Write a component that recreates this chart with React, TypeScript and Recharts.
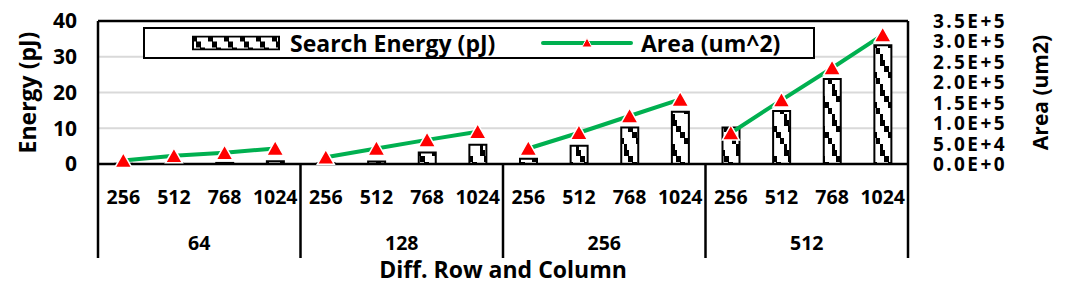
import React from "react"
import {
  Bar,
  CartesianGrid,
  ComposedChart,
  Legend,
  Line,
  ReferenceLine,
  XAxis,
  YAxis,
} from "recharts"

const columns = ["256", "512", "768", "1024"]
const groups = ["64", "128", "256", "512"]

// search energy (pJ), one list per group
const energy64 = [0.05, 0.1, 0.3, 0.8]
const energy128 = [0.2, 0.7, 3.2, 5.4]
const energy256 = [1.5, 5.1, 10.2, 14.6]
const energy512 = [10.2, 14.8, 23.8, 33.2]

// area (um^2), one list per group
const area64 = [8500, 20000, 27500, 38000]
const area128 = [16500, 38000, 59000, 79000]
const area256 = [38000, 76500, 117500, 158000]
const area512 = [76000, 156500, 235000, 316000]

const energyTicks = [0, 10, 20, 30, 40]
const areaTicks = [0, 50000, 100000, 150000, 200000, 250000, 300000, 350000]

const energyByGroup = [energy64, energy128, energy256, energy512]
const areaByGroup = [area64, area128, area256, area512]

const rows = groups.flatMap((g, gi) =>
  columns.map((c, ci) => {
    const row: Record<string, string | number> = {
      key: `${g}-${c}`,
      col: c,
      group: g,
      energy: energyByGroup[gi][ci],
    }
    row[`area${g}`] = areaByGroup[gi][ci]
    return row
  })
)

const FONT = '"Open Sans", Lato, sans-serif'
const GREEN = "#00b050"

function sci(v: number) {
  if (v === 0) return "0.0E+0"
  const exp = Math.floor(Math.log10(v))
  return `${(v / Math.pow(10, exp)).toFixed(1)}E+${exp}`
}

function CategoryTick(props: any) {
  const { x, y, payload, index, width } = props
  const half = payload && payload.offset ? payload.offset : width / rows.length / 2
  const row = rows[index]
  const per = columns.length
  const left = x - half
  return (
    <g>
      <text
        x={x}
        y={y + 24}
        textAnchor="middle"
        dominantBaseline="central"
        fontFamily={FONT}
        fontWeight={700}
        fontSize={19.5}
        fill="#000"
      >
        {row.col}
      </text>
      {index % per === 0 && (
        <>
          <line x1={left} x2={left} y1={y - 8} y2={y + 86} stroke="#000" strokeWidth={2.5} />
          <text
            x={left + half * per}
            y={y + 70}
            textAnchor="middle"
            dominantBaseline="central"
            fontFamily={FONT}
            fontWeight={700}
            fontSize={19.5}
            fill="#000"
          >
            {row.group}
          </text>
        </>
      )}
      {index === rows.length - 1 && (
        <line x1={x + half} x2={x + half} y1={y - 8} y2={y + 86} stroke="#000" strokeWidth={2.5} />
      )}
    </g>
  )
}

function AreaTick(props: any) {
  const { x, y, payload } = props
  return (
    <text
      x={x}
      y={y}
      textAnchor="start"
      dominantBaseline="central"
      fontFamily={FONT}
      fontWeight={700}
      fontSize={19}
      letterSpacing={2.4}
      fill="#000"
    >
      {sci(payload.value)}
    </text>
  )
}

function TriangleDot(props: any) {
  const { cx, cy, index } = props
  if (cx == null || cy == null) return <g key={`d-${index}`} />
  return (
    <polygon
      key={`d-${index}`}
      points={`${cx},${cy - 8} ${cx - 8.5},${cy + 7} ${cx + 8.5},${cy + 7}`}
      fill="#ff0000"
      stroke="#fff"
      strokeWidth={1.5}
    />
  )
}

function LegendBox() {
  const item: React.CSSProperties = { position: "absolute", top: "50%", transform: "translateY(-50%)" }
  return (
    <div
      style={{
        position: "relative",
        boxSizing: "border-box",
        width: 672,
        height: 32,
        border: "2px solid #000",
        background: "#fff",
        fontFamily: FONT,
        fontWeight: 700,
        fontSize: 23,
        lineHeight: "28px",
        color: "#000",
        whiteSpace: "nowrap",
      }}
    >
      <svg width={88} height={15} style={{ ...item, left: 47, display: "block" }}>
        <rect x={1} y={1} width={86} height={13} fill="url(#zig)" stroke="#000" strokeWidth={2} />
      </svg>
      <span style={{ ...item, left: 145 }}>Search Energy (pJ)</span>
      <svg width={92} height={12} style={{ ...item, left: 396, display: "block" }}>
        <line x1={2} x2={90} y1={6} y2={6} stroke={GREEN} strokeWidth={4} strokeLinecap="round" />
        <polygon points="46,1 41,10 51,10" fill="#ff0000" stroke="#fff" strokeWidth={1} />
      </svg>
      <span style={{ ...item, left: 496 }}>Area (um^2)</span>
    </div>
  )
}

export default function App() {
  return (
    <div style={{ position: "absolute", left: 0, top: 0, width: 1081, height: 302, background: "#fff" }}>
      <svg width={0} height={0} style={{ position: "absolute" }}>
        <defs>
          <pattern id="zig" patternUnits="userSpaceOnUse" width={16} height={30}>
            <rect width={16} height={30} fill="#fff" />
            <path d="M0 0 h5 v6 h4 v6 h4 v6 h3 v6 h-4 v-6 h-4 v-6 h-4 v-6 h-4 z" fill="#000" />
            <path d="M0 24 h3 v6 h-3 z" fill="#000" />
          </pattern>
        </defs>
      </svg>
      <ComposedChart width={1081} height={302} data={rows} margin={{ top: 21, right: 0, bottom: 0, left: 0 }}>
        <CartesianGrid yAxisId="left" vertical={false} stroke="#d9d9d9" strokeWidth={2} />
        <XAxis
          dataKey="key"
          height={138}
          interval={0}
          tickLine={false}
          axisLine={{ stroke: "#000", strokeWidth: 2.5 }}
          tick={<CategoryTick />}
          label={{
            value: "Diff. Row and Column",
            position: "insideBottom",
            offset: 24,
            style: { fontFamily: FONT, fontWeight: 700, fontSize: 23, fill: "#000" },
          }}
        />
        <YAxis
          yAxisId="left"
          width={98}
          domain={[0, 40]}
          ticks={energyTicks}
          tickLine={false}
          tickMargin={15}
          axisLine={{ stroke: "#000", strokeWidth: 2.5 }}
          tick={{ fill: "#000", fontFamily: FONT, fontWeight: 700, fontSize: 21 }}
          label={{
            value: "Energy (pJ)",
            angle: -90,
            position: "insideLeft",
            offset: 28,
            style: { textAnchor: "middle", fontFamily: FONT, fontWeight: 700, fontSize: 23, fill: "#000" },
          }}
        />
        <YAxis
          yAxisId="right"
          orientation="right"
          width={173}
          domain={[0, 350000]}
          ticks={areaTicks}
          interval={0}
          tickLine={false}
          tickMargin={19}
          axisLine={{ stroke: "#000", strokeWidth: 2.5 }}
          tick={<AreaTick />}
          label={{
            value: "Area (um2)",
            angle: -90,
            position: "insideRight",
            offset: 40,
            style: { textAnchor: "middle", fontFamily: FONT, fontWeight: 700, fontSize: 21, fill: "#000" },
          }}
        />
        <ReferenceLine yAxisId="left" y={40} stroke="#000" strokeWidth={2.5} />
        <Bar
          yAxisId="left"
          dataKey="energy"
          barSize={17}
          fill="url(#zig)"
          stroke="#000"
          strokeWidth={2}
          isAnimationActive={false}
          legendType="none"
        />
        {groups.map((g) => (
          <Line
            key={g}
            yAxisId="right"
            dataKey={`area${g}`}
            type="linear"
            stroke={GREEN}
            strokeWidth={4}
            dot={TriangleDot}
            activeDot={false}
            connectNulls={false}
            isAnimationActive={false}
            legendType="none"
          />
        ))}
        <Legend
          content={LegendBox}
          layout="horizontal"
          verticalAlign="middle"
          align="center"
          wrapperStyle={{ left: 143, top: 27, width: 672, height: 32 }}
        />
      </ComposedChart>
    </div>
  )
}
